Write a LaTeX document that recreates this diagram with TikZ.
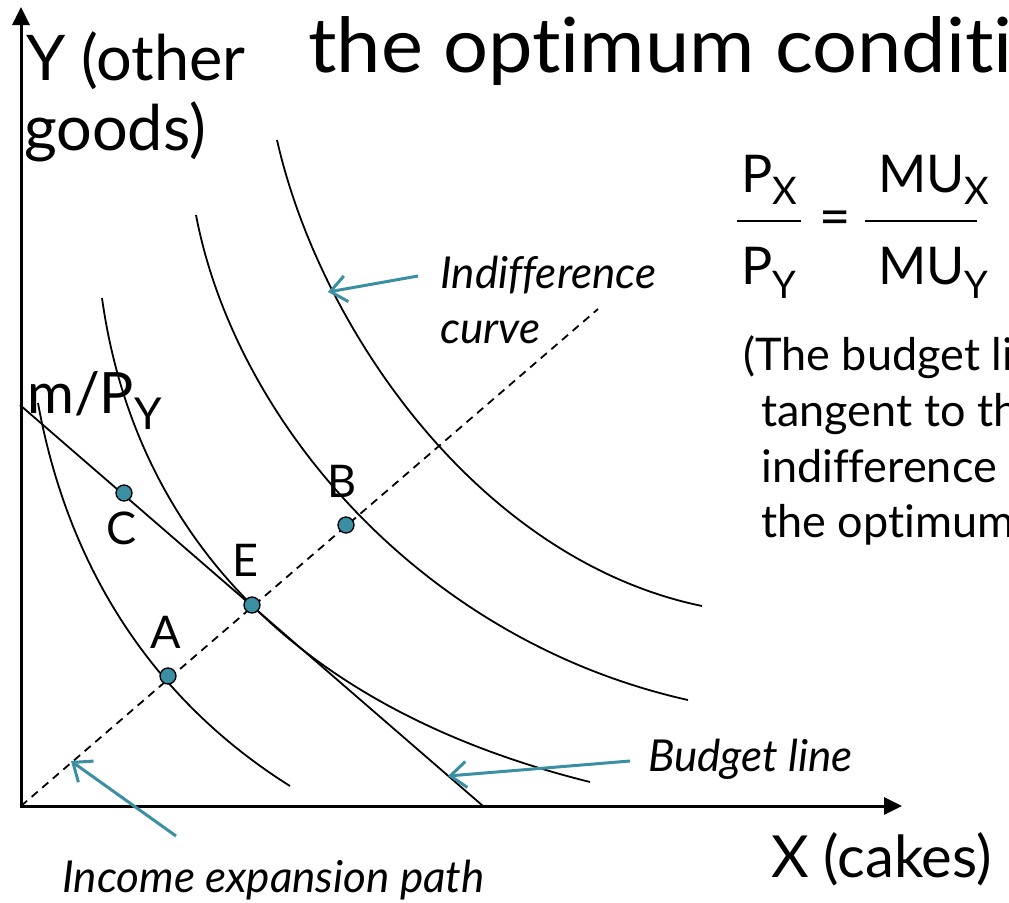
\documentclass[tikz,border=0pt]{standalone}
\usepackage{fontspec}
\setmainfont{Lato}[Ligatures={NoCommon}]
\usetikzlibrary{arrows.meta}
\definecolor{tealc}{HTML}{3A8FA2}
\newcommand{\fsz}[1]{\fontsize{#1}{#1}\selectfont}
\tikzset{
  icurve/.style={line width=1.8pt, black},
  axis/.style={line width=3pt, -{Triangle[length=18pt,width=17pt]}},
  budget/.style={line width=1.8pt, black},
  iep/.style={line width=1.8pt, dash pattern=on 8pt off 6pt},
  dotpt/.style={circle, draw=black, line width=1.3pt, fill=tealc, minimum size=16pt, inner sep=0pt},
  callout/.style={draw=tealc, line width=3pt, -{Straight Barb[length=16pt,width=26pt]}},
  lbl/.style={inner sep=0pt, anchor=base west},
  ptlbl/.style={inner sep=0pt, font=\fsz{45}},
  itl/.style={inner sep=0pt, anchor=base west, font=\fsz{44}\itshape},
  expl/.style={inner sep=0pt, anchor=base west, font=\fsz{45}},
  frac/.style={inner sep=0pt, anchor=base west, font=\fsz{52}},
  fracbar/.style={line width=2.5pt},
}
\begin{document}
\begin{tikzpicture}[x=1pt, y=-1pt]
\useasboundingbox (0,0) rectangle (1009,902);
\clip (0,0) rectangle (1009,902);

% axes
\coordinate (O) at (21,806);
\coordinate (ytip) at (21,7);
\coordinate (xtip) at (902,806);
\draw[axis] ([yshift=-1.5pt]O) -- (ytip);
\draw[axis] ([xshift=-1.5pt]O) -- (xtip);

% income expansion path
\coordinate (iepend) at (598,309);
\draw[iep] (O) -- (iepend);

% indifference curves
\draw[icurve] (38,403) .. controls (72,590) and (172,712) .. (290,786);
\draw[icurve] (102,298) .. controls (130,500) and (260,700) .. (590,782);
\draw[icurve] (196,215) .. controls (235,420) and (420,640) .. (688,700);
\draw[icurve] (277,140) .. controls (320,330) and (480,560) .. (702,606);

% budget line
\coordinate (bl0) at (20,405);
\coordinate (bl1) at (483,806);
\draw[budget] (bl0) -- (bl1);

% points
\node[dotpt] (C) at (124,493) {};
\node[dotpt] (E) at (252,605) {};
\node[dotpt] (A) at (168,676) {};
\node[dotpt] (B) at (346,525) {};
\node[ptlbl] (Cl) at (122,528) {C};
\node[ptlbl] (Bl) at (342,481) {B};
\node[ptlbl] (El) at (245,560) {E};
\node[ptlbl] (Al) at (166,632) {A};

% axis labels
\node[lbl, font=\fsz{63}] (ylab1) at (26,80) {Y (other};
\node[lbl, font=\fsz{63}] (ylab2) at (24,150) {goods)};
\node[lbl, font=\fsz{57}] (mpy) at (27,413) {m/P\raisebox{-16pt}{\fsz{44}Y}};
\node[lbl, font=\fsz{58}] (xlab) at (771,877) {X (cakes)};

% title
\node[lbl, font=\fsz{76}] (title) at (308,72) {\scalebox{1.045}[1]{the optimum condition}};

% formula
\node[frac] (px) at (741,192) {P\raisebox{-12pt}{\fsz{38}X}};
\node[frac] (py) at (741,284) {P\raisebox{-14pt}{\fsz{38}Y}};
\node[frac] (mux) at (878,192) {MU\raisebox{-12pt}{\fsz{38}X}};
\node[frac] (muy) at (878,284) {MU\raisebox{-14pt}{\fsz{38}Y}};
\node[frac, font=\fsz{54}] (eq) at (819,235) {=};
\draw[fracbar] (737,221) -- (801,221);
\draw[fracbar] (865,221) -- (977,221);

% explanation
\node[expl] (ex1) at (743,370) {(The budget line is};
\node[expl] (ex2) at (761,426) {tangent to the};
\node[expl] (ex3) at (761,482) {indifference curve at};
\node[expl] (ex4) at (761,537) {the optimum.)};

% callouts
\node[itl] (ind1) at (440,288) {Indifference};
\node[itl] (ind2) at (440,343) {curve};
\node[itl] (bud) at (648,771) {Budget line};
\node[itl] (inc) at (62,892) {Income expansion path};

\coordinate (indtip) at (328,292);
\coordinate (indst) at (418,276);
\draw[callout] (indst) -- (indtip);
\coordinate (budtip) at (448,776);
\coordinate (budst) at (630,761);
\draw[callout] (budst) -- (budtip);
\coordinate (inctip) at (71,761);
\coordinate (incst) at (176,836);
\draw[callout] (incst) -- (inctip);
\end{tikzpicture}
\end{document}
